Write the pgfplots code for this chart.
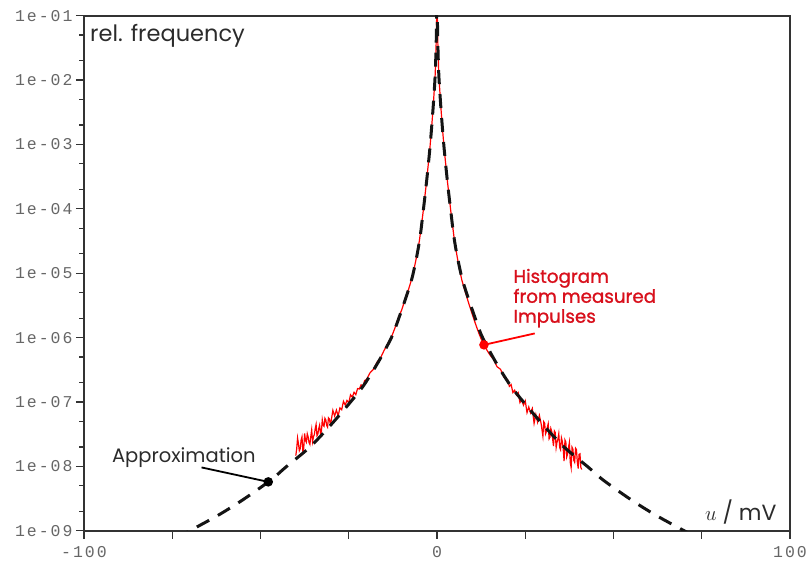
\documentclass[border=0pt]{standalone}
\usepackage{fontspec}
\setmainfont{Poppins}
\newfontfamily\poppinsmed[FakeBold=1.2]{Poppins}
\newfontfamily\monofont[LetterSpace=12]{Liberation Mono}
\usepackage{pgfplots}
\pgfplotsset{compat=1.18}
\definecolor{axisgray}{HTML}{333333}
\definecolor{ticklab}{HTML}{666666}
\definecolor{txtgray}{HTML}{2B2B2B}
\definecolor{labred}{HTML}{D8101C}
\begin{document}
\begin{tikzpicture}
\path[use as bounding box] (-84pt,-30pt) rectangle (724pt,530.7pt);
\begin{axis}[
  at={(0pt,0pt)}, anchor=south west,
  scale only axis, width=706pt, height=515pt,
  xmin=-100, xmax=100, ymin=1e-9, ymax=1e-1, ymode=log,
  xtick={-100,-75,-50,-25,0,25,50,75,100},
  xticklabels={-100,,,,0,,,,100},
  ytick={1e-9,1e-8,1e-7,1e-6,1e-5,1e-4,1e-3,1e-2,1e-1},
  yticklabels={1e-09,1e-08,1e-07,1e-06,1e-05,1e-04,1e-03,1e-02,1e-01},
  minor ytick={2e-9,5e-9,2e-8,5e-8,2e-7,5e-7,2e-6,5e-6,2e-5,5e-5,2e-4,5e-4,2e-3,5e-3,2e-2,5e-2},
  xtick pos=bottom, ytick pos=left, tick align=outside,
  major tick length=8pt, minor tick length=4.5pt,
  axis line style={draw=axisgray, line width=2pt},
  tick style={draw=axisgray, line width=1.3pt},
  tick label style={font=\monofont\fontsize{16.5}{18}\selectfont, text=ticklab},
  xticklabel style={yshift=-4pt},
  clip=true,
]
% measured histogram (red)
\addplot[red, line width=1.2pt] coordinates {
(-40,1.469e-8) (-39.75,1.855e-8) (-39.5,2.754e-8) (-39.25,2.246e-8) (-39,1.750e-8) (-38.75,1.881e-8) (-38.5,2.547e-8) (-38.25,2.868e-8) (-38,1.694e-8) (-37.75,1.905e-8) (-37.5,3.243e-8) (-37.25,2.527e-8) (-37,2.366e-8) (-36.75,3.203e-8) (-36.5,2.864e-8) (-36.25,2.336e-8) (-36,2.188e-8) (-35.75,2.914e-8) (-35.5,3.707e-8) (-35.25,2.418e-8) (-35,2.871e-8) (-34.75,3.108e-8) (-34.5,3.864e-8) (-34.25,4.482e-8) (-34,2.992e-8) (-33.75,3.166e-8) (-33.5,3.846e-8) (-33.25,4.360e-8) (-33,3.192e-8) (-32.75,3.455e-8) (-32.5,5.284e-8) (-32.25,4.340e-8) (-32,4.188e-8) (-31.75,5.579e-8) (-31.5,5.260e-8) (-31.25,4.315e-8) (-31,4.064e-8) (-30.75,5.669e-8) (-30.5,5.470e-8) (-30.25,4.608e-8) (-30,5.000e-8)
(-29.5,7.430e-8) (-29,6.053e-8) (-28.5,7.482e-8) (-28,6.109e-8) (-27.5,8.072e-8) (-27,7.568e-8) (-26.5,1.023e-7) (-26,8.954e-8) (-25.5,1.057e-7) (-25,9.705e-8) (-24.5,1.291e-7) (-24,1.189e-7) (-23.5,1.413e-7) (-23,1.300e-7) (-22.5,1.614e-7) (-22,1.592e-7) (-21.5,1.845e-7) (-21,1.738e-7) (-20.5,2.153e-7) (-20,2.218e-7) (-19,2.825e-7) (-18,3.214e-7) (-17,4.150e-7) (-16,4.831e-7) (-15,6.310e-7) (-14,7.907e-7) (-13,9.908e-7) (-12,1.368e-6)
(-11,1.986e-6) (-10,2.692e-6) (-9,3.981e-6) (-8,5.754e-6) (-7,8.710e-6) (-6,1.574e-5) (-5,3.162e-5) (-4,8.318e-5) (-3,2.535e-4) (-2,8.913e-4) (-1.5,1.905e-3) (-1,4.467e-3) (-0.5,1.259e-2) (-0.2,4.467e-2) (0,0.1995)
(0.2,4.467e-2) (0.5,1.259e-2) (1,4.467e-3) (1.5,1.905e-3) (2,8.913e-4) (3,2.535e-4) (4,8.318e-5) (5,3.020e-5) (6,1.469e-5) (7,7.943e-6) (8,5.129e-6) (9,3.388e-6) (10,2.291e-6) (11,1.578e-6) (12,1.112e-6) (13,8.241e-7) (14,6.577e-7) (15,5.370e-7) (16,4.613e-7) (17,3.532e-7) (18,3.214e-7) (19,2.404e-7)
(20,2.218e-7) (20.5,1.750e-7) (21,1.862e-7) (21.5,1.400e-7) (22,1.521e-7) (22.5,1.282e-7) (23,1.393e-7) (23.5,9.772e-8) (24,1.084e-7) (24.5,8.933e-8) (25,1.040e-7) (25.5,6.823e-8) (26,8.356e-8) (26.5,6.761e-8) (27,7.925e-8) (27.5,4.645e-8) (28,6.397e-8) (28.5,4.831e-8) (29,6.194e-8) (29.5,4.581e-8)
(30,2.944e-8) (30.25,4.937e-8) (30.5,4.656e-8) (30.75,3.188e-8) (31,3.459e-8) (31.25,4.027e-8) (31.5,4.581e-8) (31.75,2.670e-8) (32,2.831e-8) (32.25,3.868e-8) (32.5,3.491e-8) (32.75,2.683e-8) (33,2.061e-8) (33.25,3.543e-8) (33.5,3.350e-8) (33.75,1.952e-8) (34,2.377e-8) (34.25,2.639e-8) (34.5,3.214e-8) (34.75,1.961e-8) (35,1.811e-8) (35.25,2.777e-8) (35.5,2.449e-8) (35.75,1.881e-8) (36,1.202e-8) (36.25,2.562e-8) (36.5,2.382e-8) (36.75,1.398e-8) (37,1.563e-8) (37.25,1.961e-8) (37.5,2.350e-8) (37.75,1.148e-8) (38,9.528e-9) (38.25,1.984e-8) (38.5,1.845e-8) (38.75,1.243e-8) (39,1.156e-8) (39.25,1.912e-8) (39.5,1.820e-8) (39.75,1.171e-8) (40,9.268e-9) (40.25,1.533e-8) (40.5,1.563e-8) (40.75,9.605e-9) (41,8.933e-9)
};
% approximation (dashed)
\addplot[black!92, line width=3pt, dash pattern=on 14pt off 10pt, smooth, tension=0.5] coordinates {
(-74,7.586e-10) (-70,1e-9) (-62,1.738e-9) (-55,3.020e-9) (-47,6.166e-9) (-43,9.550e-9) (-36,1.995e-8) (-30.3,4.266e-8) (-25.4,8.710e-8) (-21,1.738e-7) (-17.5,3.467e-7) (-15,6.026e-7) (-12.5,1.122e-6) (-10,2.692e-6) (-8.5,4.677e-6) (-7,8.710e-6) (-5.6,1.995e-5) (-4.7,3.981e-5) (-4,8.318e-5) (-3.3,1.778e-4) (-2.6,4.074e-4) (-2,8.913e-4) (-1.5,1.905e-3) (-1,4.467e-3) (-0.5,1.259e-2) (-0.2,4.467e-2) (0,0.1995)
(0.2,4.467e-2) (0.5,1.259e-2) (1,4.467e-3) (1.5,1.905e-3) (2,8.913e-4) (2.6,4.074e-4) (3.3,1.778e-4) (4,8.318e-5) (4.7,3.981e-5) (5.6,1.995e-5) (7,8.710e-6) (8.5,4.677e-6) (10,2.692e-6) (12.5,1.122e-6) (15,6.026e-7) (17.5,3.467e-7) (21,1.738e-7) (25.4,8.710e-8) (30.3,4.266e-8) (36,1.995e-8) (43,9.550e-9) (47,6.166e-9) (55,3.020e-9) (62,1.738e-9) (70,1e-9) (74,7.586e-10)
};
% pointers
\addplot[black, line width=1.8pt, mark=*, mark size=3.8pt, mark indices={2}] coordinates {(-66.7,9.616e-9) (-47.8,5.74e-9)};
\addplot[red, line width=1.8pt, mark=*, mark size=3.8pt, mark indices={1}] coordinates {(13.3,7.71e-7) (27.7,1.161e-6)};
% texts
\node[anchor=base west, font=\fontsize{22.5}{24}\selectfont, text=txtgray, inner sep=0pt] at (axis cs:-98.3,3.91e-2) {rel. frequency};
\node[anchor=base west, font=\fontsize{19.5}{22}\selectfont, text=txtgray, inner sep=0pt] at (axis cs:-92.1,1.161e-8) {Approximation};
\node[anchor=base west, font=\poppinsmed\fontsize{18.3}{20}\selectfont, text=labred, inner sep=0pt] at (axis cs:21.6,7.096e-6) {Histogram};
\node[anchor=base west, font=\poppinsmed\fontsize{18.3}{20}\selectfont, text=labred, inner sep=0pt] at (axis cs:21.6,3.475e-6) {from measured};
\node[anchor=base west, font=\poppinsmed\fontsize{18.3}{20}\selectfont, text=labred, inner sep=0pt] at (axis cs:21.6,1.702e-6) {Impulses};
\node[anchor=base east, font=\fontsize{22}{24}\selectfont, text=txtgray, inner sep=0pt] at (axis cs:96.2,1.466e-9) {$u$ / mV};
\end{axis}
\end{tikzpicture}
\end{document}
